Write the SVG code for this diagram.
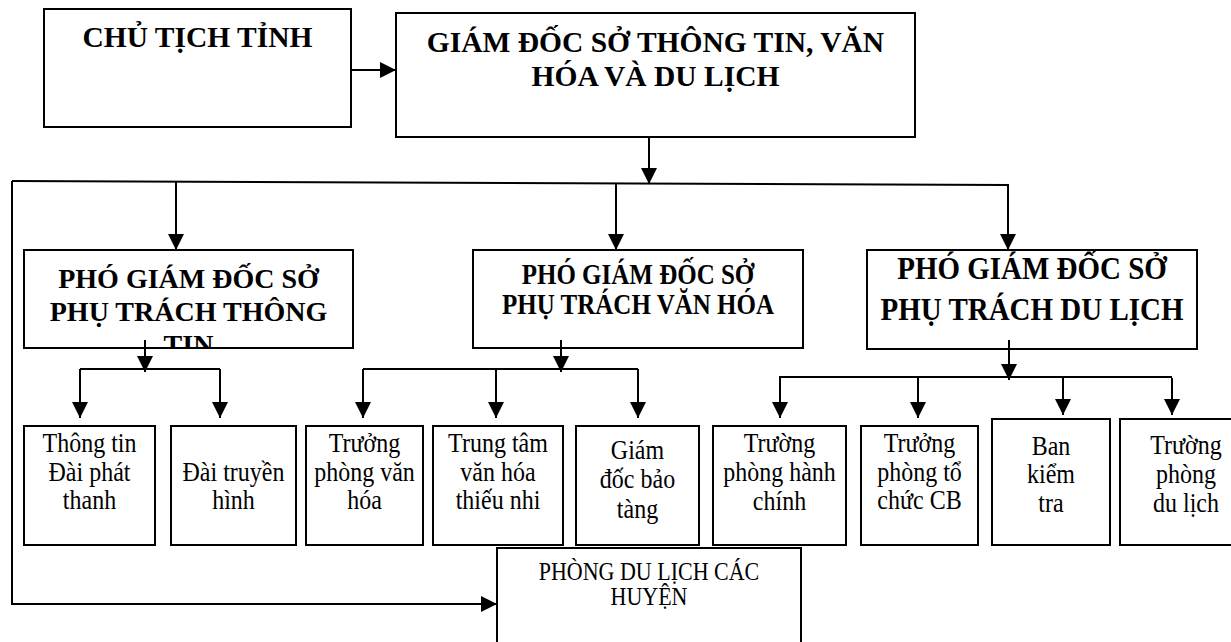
<svg xmlns="http://www.w3.org/2000/svg" width="1231" height="642" viewBox="0 0 1231 642">
<style>
  .box{fill:#fff;stroke:#000;stroke-width:2}
  .ln{fill:none;stroke:#000;stroke-width:2}
  .hb{font-family:"Liberation Serif","Times New Roman",serif;font-weight:bold;text-anchor:middle;fill:#000}
  .tr{font-family:"Liberation Serif","Times New Roman",serif;font-size:24px;text-anchor:middle;fill:#000}
</style>
<defs>
  <marker id="arr" viewBox="0 0 16 16" refX="16" refY="8" markerWidth="16" markerHeight="16" markerUnits="userSpaceOnUse" orient="auto">
    <path d="M0,0 L16,8 L0,16 z" fill="#000"/>
  </marker>
  <clipPath id="clipTT"><rect x="25" y="251" width="327" height="96"/></clipPath>
</defs>
<rect width="1231" height="642" fill="#fff"/>

<g id="chu-tich">
  <rect class="box" x="44" y="9" width="307" height="118"/>
  <text class="hb" x="197.5" y="47" font-size="29.5">CHỦ TỊCH TỈNH</text>
</g>
<g id="giam-doc">
  <rect class="box" x="396" y="13" width="519" height="124"/>
  <text class="hb" x="655.5" y="52" font-size="29.5">GIÁM ĐỐC SỞ THÔNG TIN, VĂN</text>
  <text class="hb" x="655.5" y="86" font-size="29.5">HÓA VÀ DU LỊCH</text>
</g>
<g id="pgd-thong-tin">
  <rect class="box" x="24" y="250" width="329" height="98"/>
  <g clip-path="url(#clipTT)">
    <text class="hb" font-size="28" x="188.5" y="288">PHÓ GIÁM ĐỐC SỞ</text>
    <text class="hb" font-size="28" x="188.5" y="321">PHỤ TRÁCH THÔNG</text>
    <text class="hb" font-size="28" x="188.5" y="354">TIN</text>
  </g>
</g>
<g id="pgd-van-hoa">
  <rect class="box" x="473" y="250" width="330" height="98"/>
  <text class="hb" font-size="25" transform="translate(638,284) scale(1,1.15)">PHÓ GIÁM ĐỐC SỞ</text>
  <text class="hb" font-size="25" transform="translate(638,314) scale(1,1.15)">PHỤ TRÁCH VĂN HÓA</text>
</g>
<g id="pgd-du-lich">
  <rect class="box" x="867" y="250" width="330" height="99"/>
  <text class="hb" font-size="29" transform="translate(1032,279) scale(1,1.12)">PHÓ GIÁM ĐỐC SỞ</text>
  <text class="hb" font-size="29" transform="translate(1032,320) scale(1,1.12)">PHỤ TRÁCH DU LỊCH</text>
</g>

<g id="thong-tin-dai-phat-thanh">
  <rect class="box" x="24" y="426" width="131" height="119"/>
  <text class="tr" transform="translate(89.5,452) scale(1,1.12)">Thông tin</text>
  <text class="tr" transform="translate(89.5,481) scale(1,1.12)">Đài phát</text>
  <text class="tr" transform="translate(89.5,509) scale(1,1.12)">thanh</text>
</g>
<g id="dai-truyen-hinh">
  <rect class="box" x="171" y="426" width="125" height="119"/>
  <text class="tr" transform="translate(233.5,481) scale(1,1.12)">Đài truyền</text>
  <text class="tr" transform="translate(233.5,509) scale(1,1.12)">hình</text>
</g>
<g id="truong-phong-van-hoa">
  <rect class="box" x="306" y="426" width="117" height="119"/>
  <text class="tr" transform="translate(364.5,452) scale(1,1.12)">Trưởng</text>
  <text class="tr" transform="translate(364.5,481) scale(1,1.12)">phòng văn</text>
  <text class="tr" transform="translate(364.5,509) scale(1,1.12)">hóa</text>
</g>
<g id="trung-tam-van-hoa">
  <rect class="box" x="433" y="426" width="130" height="119"/>
  <text class="tr" transform="translate(498,452) scale(1,1.12)">Trung tâm</text>
  <text class="tr" transform="translate(498,481) scale(1,1.12)">văn hóa</text>
  <text class="tr" transform="translate(498,509) scale(1,1.12)">thiếu nhi</text>
</g>
<g id="giam-doc-bao-tang">
  <rect class="box" x="576" y="426" width="123" height="119"/>
  <text class="tr" transform="translate(637.5,459) scale(1,1.12)">Giám</text>
  <text class="tr" transform="translate(637.5,488) scale(1,1.12)">đốc bảo</text>
  <text class="tr" transform="translate(637.5,518) scale(1,1.12)">tàng</text>
</g>
<g id="truong-phong-hanh-chinh">
  <rect class="box" x="713" y="426" width="133" height="119"/>
  <text class="tr" transform="translate(779.5,452) scale(1,1.12)">Trường</text>
  <text class="tr" transform="translate(779.5,481) scale(1,1.12)">phòng hành</text>
  <text class="tr" transform="translate(779.5,510) scale(1,1.12)">chính</text>
</g>
<g id="truong-phong-to-chuc">
  <rect class="box" x="861" y="426" width="117" height="119"/>
  <text class="tr" transform="translate(919.5,452) scale(1,1.12)">Trưởng</text>
  <text class="tr" transform="translate(919.5,481) scale(1,1.12)">phòng tổ</text>
  <text class="tr" transform="translate(919.5,509) scale(1,1.12)">chức CB</text>
</g>
<g id="ban-kiem-tra">
  <rect class="box" x="992" y="419" width="118" height="126"/>
  <text class="tr" transform="translate(1051,455) scale(1,1.12)">Ban</text>
  <text class="tr" transform="translate(1051,483) scale(1,1.12)">kiểm</text>
  <text class="tr" transform="translate(1051,512) scale(1,1.12)">tra</text>
</g>
<g id="truong-phong-du-lich">
  <rect class="box" x="1120" y="419" width="132" height="126"/>
  <text class="tr" transform="translate(1186,454) scale(1,1.12)">Trường</text>
  <text class="tr" transform="translate(1186,483) scale(1,1.12)">phòng</text>
  <text class="tr" transform="translate(1186,512) scale(1,1.12)">du lịch</text>
</g>
<g id="phong-du-lich-cac-huyen">
  <rect class="box" x="497" y="548" width="304" height="120"/>
  <text class="tr" style="font-size:22px" transform="translate(649,580) scale(1,1.1)">PHÒNG DU LỊCH CÁC</text>
  <text class="tr" style="font-size:22px" transform="translate(649,605) scale(1,1.1)">HUYỆN</text>
</g>

<g id="connectors">
  <line class="ln" x1="351" y1="70" x2="396" y2="70" marker-end="url(#arr)"/>
  <line class="ln" x1="649" y1="138" x2="649" y2="184" marker-end="url(#arr)"/>
  <polyline class="ln" points="12,181 1008,185 1008,250" marker-end="url(#arr)"/>
  <line class="ln" x1="176" y1="182" x2="176" y2="250" marker-end="url(#arr)"/>
  <line class="ln" x1="616" y1="183" x2="616" y2="250" marker-end="url(#arr)"/>
  <polyline class="ln" points="12,181 12,604 497,604" marker-end="url(#arr)"/>
  <line class="ln" x1="145" y1="340" x2="145" y2="372" marker-end="url(#arr)"/>
  <line class="ln" x1="80" y1="369" x2="220" y2="369"/>
  <line class="ln" x1="80" y1="369" x2="80" y2="418" marker-end="url(#arr)"/>
  <line class="ln" x1="220" y1="369" x2="220" y2="418" marker-end="url(#arr)"/>
  <line class="ln" x1="561" y1="340" x2="561" y2="372" marker-end="url(#arr)"/>
  <line class="ln" x1="363" y1="369" x2="638" y2="369"/>
  <line class="ln" x1="363" y1="369" x2="363" y2="418" marker-end="url(#arr)"/>
  <line class="ln" x1="496" y1="369" x2="496" y2="418" marker-end="url(#arr)"/>
  <line class="ln" x1="638" y1="369" x2="638" y2="418" marker-end="url(#arr)"/>
  <line class="ln" x1="1009" y1="340" x2="1009" y2="380" marker-end="url(#arr)"/>
  <line class="ln" x1="779" y1="377" x2="1172" y2="377"/>
  <line class="ln" x1="780" y1="377" x2="780" y2="418" marker-end="url(#arr)"/>
  <line class="ln" x1="918" y1="377" x2="918" y2="418" marker-end="url(#arr)"/>
  <line class="ln" x1="1063" y1="377" x2="1063" y2="415" marker-end="url(#arr)"/>
  <line class="ln" x1="1172" y1="378" x2="1172" y2="415" marker-end="url(#arr)"/>
</g>
</svg>
